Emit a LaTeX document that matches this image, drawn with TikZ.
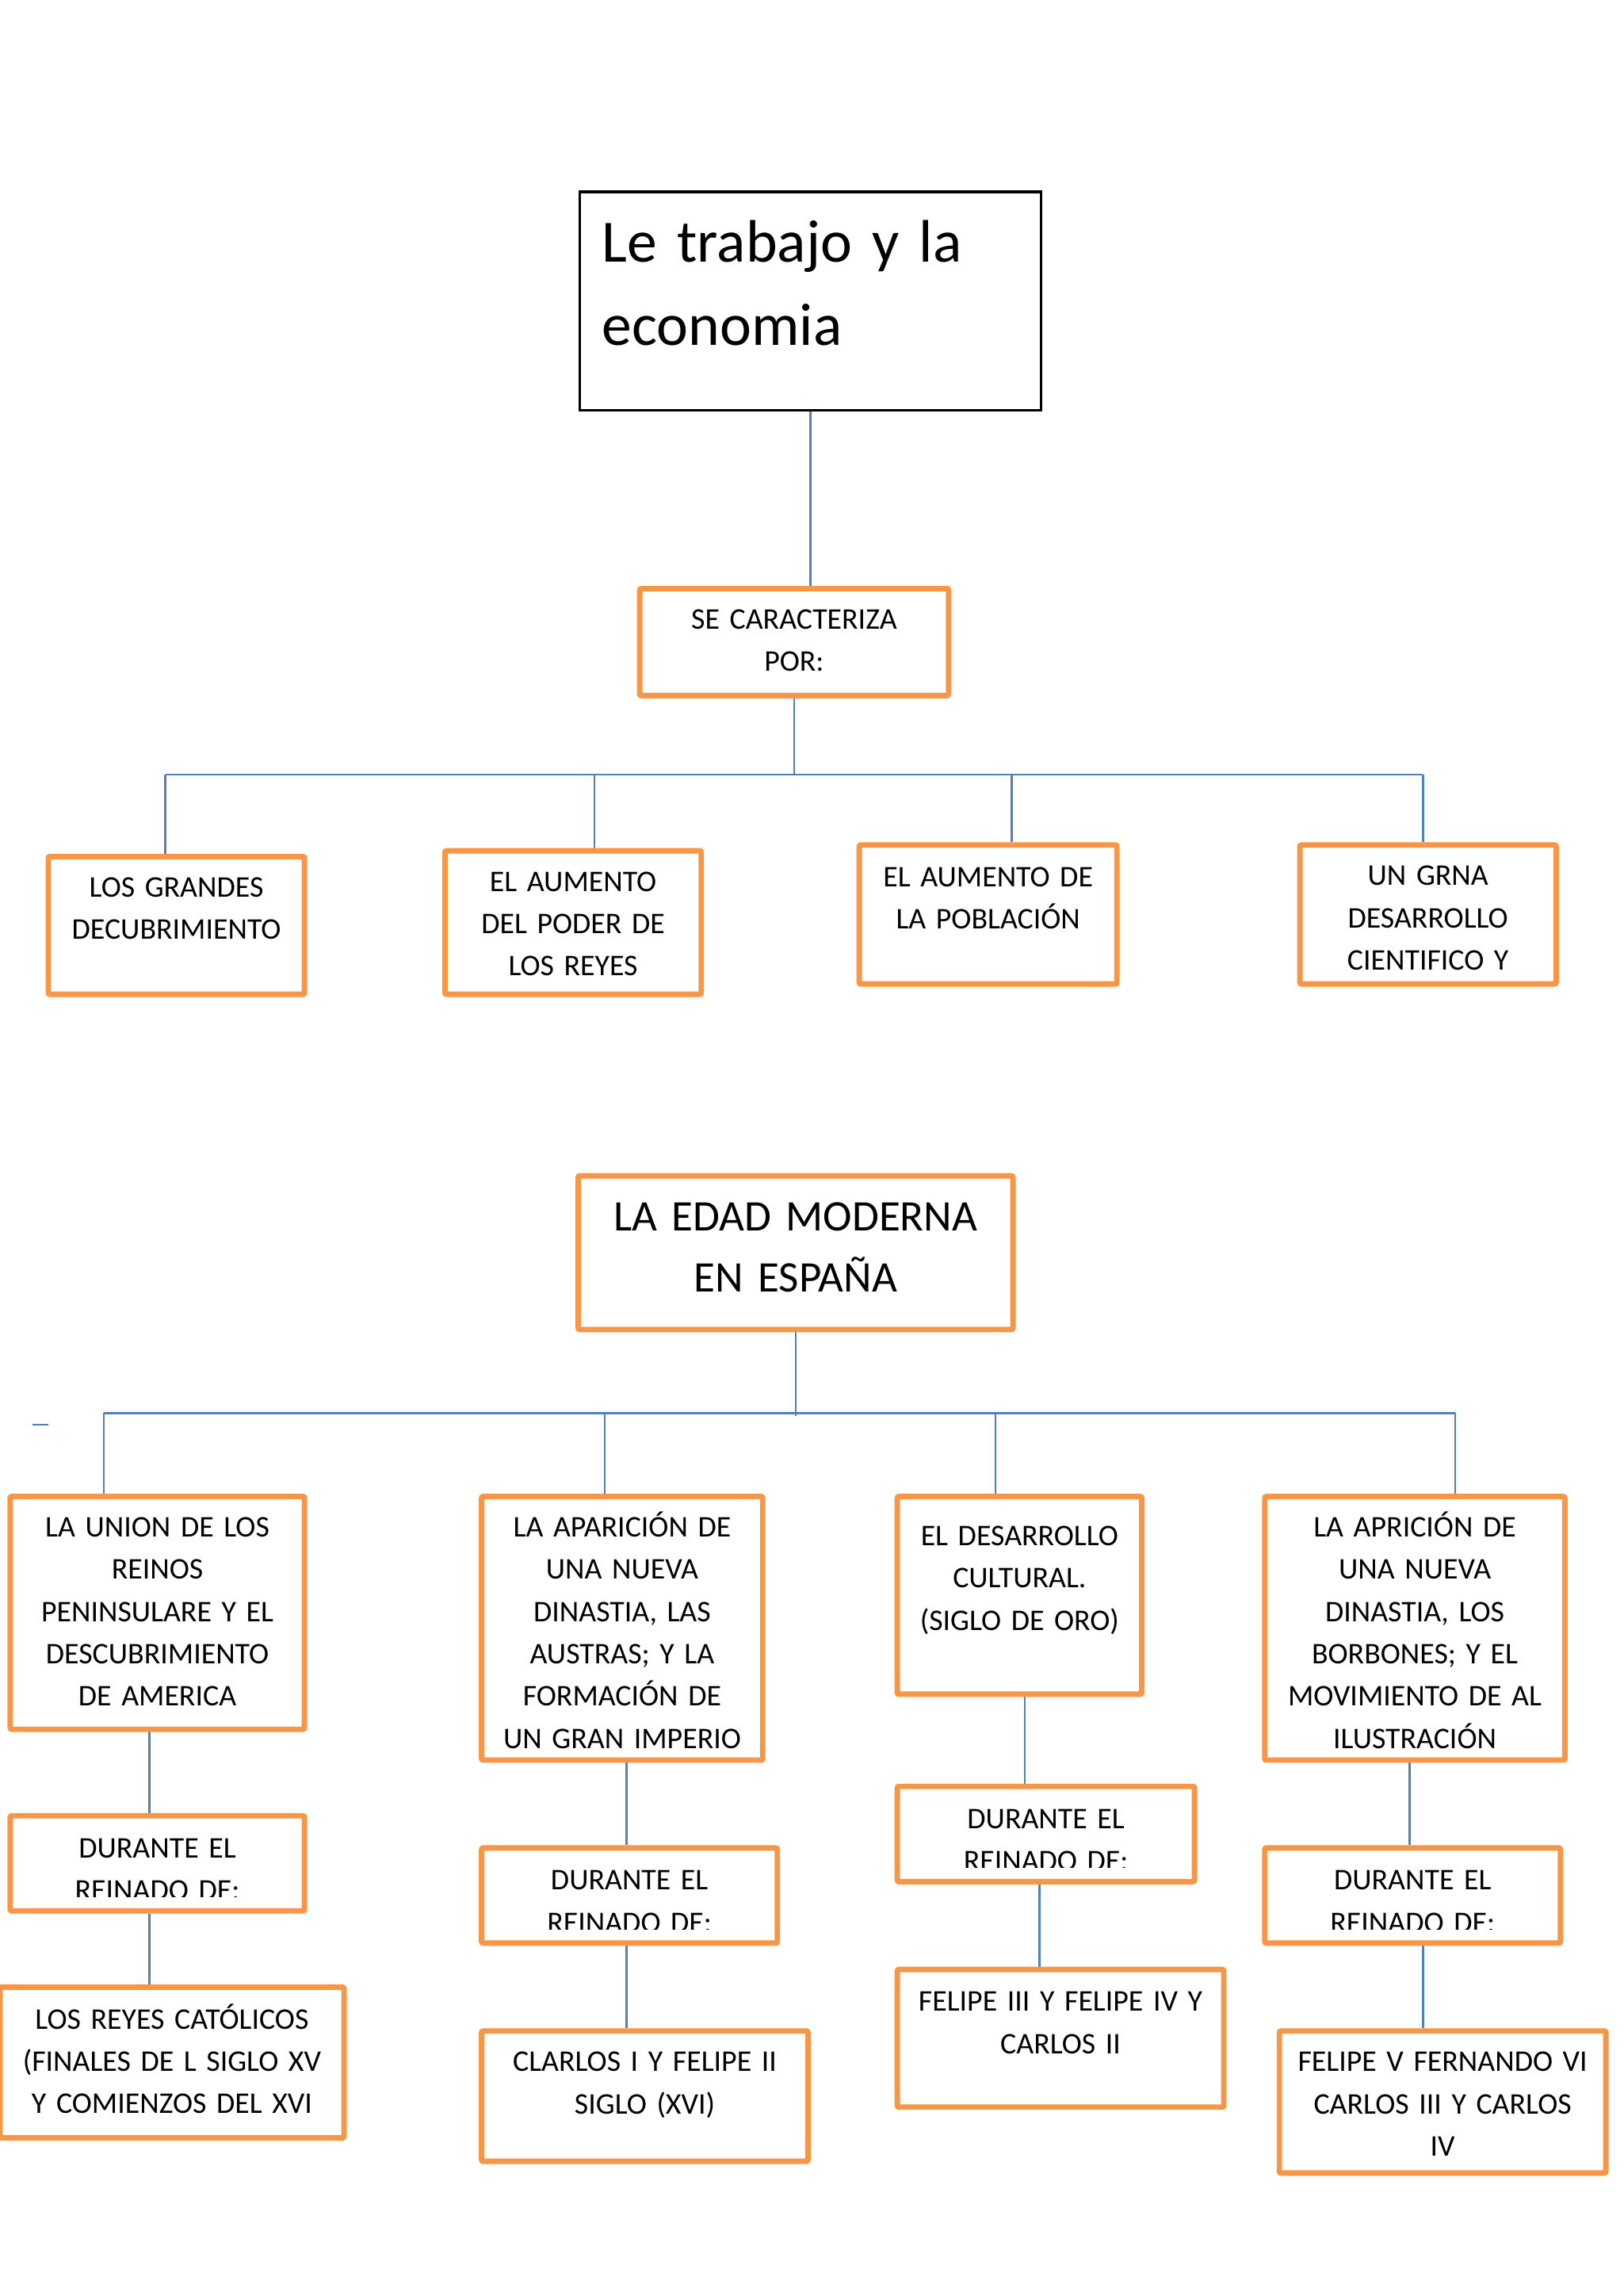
\documentclass[tikz,border=0pt]{standalone}
\usepackage{fontspec}
\setmainfont{Carlito}
\XeTeXinterwordspaceshaping=0
\usetikzlibrary{backgrounds}
\definecolor{boxorange}{HTML}{F79646}
\definecolor{linkblue}{HTML}{4F81BD}
\newcommand\obx[5]{\node[obox, minimum width={(#4-#2)*0.53677pt}, minimum height={(#5-#3)*0.53677pt}] (#1) at ({(#2+#4)/2},{(#3+#5)/2}) {};}
\newcommand\otx[4]{\node[txt] (#1) at (#2,#3) {#4};}
\newcommand\tightsp{\XeTeXinterwordspaceshaping=0 \spaceskip=0.17em\relax\xspaceskip=0.2em\relax}
\begin{document}
\begin{tikzpicture}[x=0.53677pt, y=-0.53677pt,
  obox/.style={draw=boxorange, line width=2pt, fill=white, rounded corners=0.6pt, inner sep=0pt, anchor=center},
  tbox/.style={draw=black, line width=0.9pt, fill=white, inner sep=0pt, anchor=center},
  txt/.style={font=\fontsize{11}{15.5}\selectfont\tightsp, align=center, text width=170pt, inner sep=0pt, anchor=base},
  conn/.style={draw=linkblue, line width=0.75pt}]
\useasboundingbox (0,0) rectangle (1109,1568);

% ---------- upper diagram ----------
\node[tbox, minimum width={315*0.53677pt}, minimum height={149*0.53677pt}] (title) at (553.5,205.5) {};
\node[font=\fontsize{22}{30.6}\selectfont\tightsp, align=left, text width=300pt, inner sep=0pt, anchor=base west] (titletext) at (411,179) {Le trabajo y la\\economia};

\obx{se}{437}{402}{648}{475}
\otx{set}{542.5}{429.6}{SE CARACTERIZA\\POR:}

\obx{k1}{33}{585}{208}{679}
\otx{k1t}{120.5}{612.6}{LOS GRANDES\\DECUBRIMIENTO}
\obx{k2}{304}{581}{479}{679}
\otx{k2t}{391.5}{608.6}{EL AUMENTO\\DEL PODER DE\\LOS REYES}
\obx{k3}{587}{577}{763}{672}
\otx{k3t}{675}{605.6}{EL AUMENTO DE\\LA POBLACIÓN}
\obx{k4}{888}{577}{1063}{672}
\otx{k4t}{975.5}{604.6}{UN GRNA\\DESARROLLO\\CIENTIFICO Y}

% ---------- lower diagram ----------
\obx{edad}{395}{803}{692}{908}
\node[font=\fontsize{16}{22.5}\selectfont\tightsp, align=center, text width=250pt, inner sep=0pt, anchor=base] (edadt) at (543.5,840.6) {LA EDAD MODERNA\\EN ESPAÑA};

\obx{b1}{7}{1022}{208}{1181}
\otx{b1t}{107.5}{1049.6}{LA UNION DE LOS\\REINOS\\PENINSULARE Y EL\\DESCUBRIMIENTO\\DE AMERICA}
\obx{b2}{329}{1022}{521}{1202}
\otx{b2t}{425}{1049.6}{LA APARICIÓN DE\\UNA NUEVA\\DINASTIA, LAS\\AUSTRAS; Y LA\\FORMACIÓN DE\\UN GRAN IMPERIO}
\obx{b3}{613}{1022}{780}{1157}
\otx{b3t}{696.5}{1055.6}{EL DESARROLLO\\CULTURAL.\\(SIGLO DE ORO)}
\obx{b4}{864}{1022}{1069}{1202}
\otx{b4t}{966.5}{1049.6}{LA APRICIÓN DE\\UNA NUEVA\\DINASTIA, LOS\\BORBONES; Y EL\\MOVIMIENTO DE AL\\ILUSTRACIÓN}

\obx{d1}{7}{1240}{208}{1305}
\begin{scope}\clip (0,1230) rectangle (240,1295.5);
\otx{d1t}{107.5}{1268.6}{DURANTE EL\\REINADO DE:}
\end{scope}
\obx{d2}{329}{1262}{531}{1327}
\begin{scope}\clip (320,1250) rectangle (540,1317.5);
\otx{d2t}{430}{1290.6}{DURANTE EL\\REINADO DE:}
\end{scope}
\obx{d3}{613}{1220}{816}{1285}
\begin{scope}\clip (600,1210) rectangle (830,1275.5);
\otx{d3t}{714.5}{1248.6}{DURANTE EL\\REINADO DE:}
\end{scope}
\obx{d4}{864}{1262}{1066}{1327}
\begin{scope}\clip (850,1250) rectangle (1080,1317.5);
\otx{d4t}{965}{1290.6}{DURANTE EL\\REINADO DE:}
\end{scope}

\obx{r1}{0}{1357}{235}{1460}
\otx{r1t}{117.5}{1385.6}{LOS REYES CATÓLICOS\\(FINALES DE L SIGLO XV\\Y COMIENZOS DEL XVI}
\obx{r2}{329}{1387}{552}{1476}
\otx{r2t}{440.5}{1414.6}{CLARLOS I Y FELIPE II\\SIGLO (XVI)}
\obx{r3}{613}{1345}{836}{1439}
\otx{r3t}{724.5}{1373.6}{FELIPE III Y FELIPE IV Y\\CARLOS II}
\obx{r4}{874}{1387}{1097}{1484}
\otx{r4t}{985.5}{1414.6}{FELIPE V FERNANDO VI\\CARLOS III Y CARLOS\\IV}

% ---------- connectors ----------
\begin{pgfonlayer}{background}
\draw[conn] (title.south) -- (title.south |- se.north);
\coordinate (busL) at (113,529);
\coordinate (busR) at (972,529);
\coordinate (dk2) at (406,529);
\coordinate (dk3) at (691,529);
\draw[conn] (se.south) -- (se.south |- busL);
\draw[conn] (busL) -- (busR);
\draw[conn] (busL) -- (busL |- k1.north);
\draw[conn] (dk2) -- (dk2 |- k2.north);
\draw[conn] (dk3) -- (dk3 |- k3.north);
\draw[conn] (busR) -- (busR |- k4.north);

\coordinate (edadend) at (543,967);
\coordinate (bL) at (71,965);
\coordinate (bR) at (994,965);
\coordinate (db2) at (413,965);
\coordinate (db3) at (680,965);
\draw[conn] (edad.south) -- (edad.south |- edadend);
\draw[conn] (bL) -- (bR);
\draw[conn] (bL) -- (bL |- b1.north);
\draw[conn] (db2) -- (db2 |- b2.north);
\draw[conn] (db3) -- (db3 |- b3.north);
\draw[conn] (bR) -- (bR |- b4.north);
\coordinate (m1) at (22,973);
\coordinate (m2) at (33,973);
\draw[conn] (m1) -- (m2);

\coordinate (x1) at (102,1181);
\coordinate (x2) at (428,1202);
\coordinate (x3) at (700,1157);
\coordinate (y3) at (710,1285);
\coordinate (x4) at (963,1202);
\coordinate (y4) at (972,1327);
\draw[conn] (x1) -- (x1 |- d1.north);
\draw[conn] (x1 |- d1.south) -- (x1 |- r1.north);
\draw[conn] (x2) -- (x2 |- d2.north);
\draw[conn] (x2 |- d2.south) -- (x2 |- r2.north);
\draw[conn] (x3) -- (x3 |- d3.north);
\draw[conn] (y3) -- (y3 |- r3.north);
\draw[conn] (x4) -- (x4 |- d4.north);
\draw[conn] (y4) -- (y4 |- r4.north);
\end{pgfonlayer}
\end{tikzpicture}
\end{document}
